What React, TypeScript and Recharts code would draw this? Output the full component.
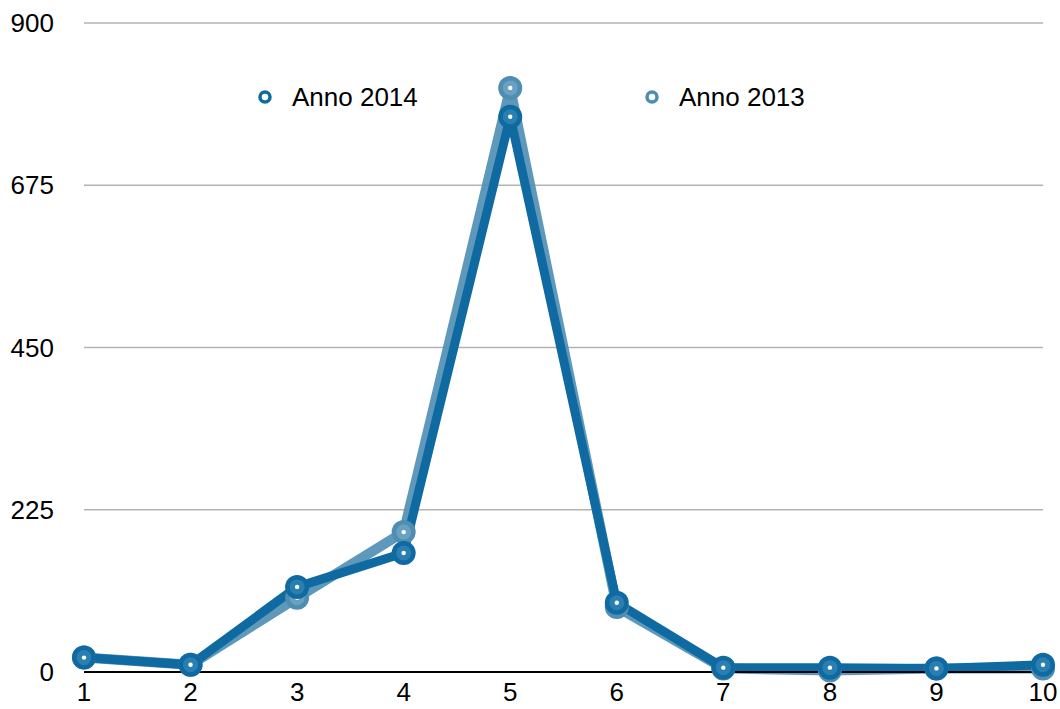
import { LineChart, Line, XAxis, YAxis, CartesianGrid } from 'recharts'

const categories = ['1', '2', '3', '4', '5', '6', '7', '8', '9', '10']
const anno2014 = [20, 10, 118, 165, 770, 96, 6, 6, 5, 10]
const anno2013 = [20, 10, 103, 194, 810, 90, 5, 2, 5, 5]
const yTicks = [0, 225, 450, 675, 900]

const C2014 = '#0f6aa1'
const C2013 = '#4d8db3'
const FONT = '"Liberation Sans", Arial, sans-serif'

const data = categories.map((c, i) => ({ cat: c, a2014: anno2014[i], a2013: anno2013[i] }))

const makeDot = (outer: string, inner: string) => (props: any) => {
  const { cx, cy, index } = props
  if (cx == null || cy == null) return <g key={index} />
  return (
    <g key={index}>
      <circle cx={cx} cy={cy} r={12} fill={outer} />
      <circle cx={cx} cy={cy} r={7.5} fill={inner} />
      <circle cx={cx} cy={cy} r={2.2} fill="#fff" />
    </g>
  )
}

const LegendIcon = ({ color }: { color: string }) => (
  <svg width={16} height={16} style={{ display: 'block' }}>
    <circle cx={8} cy={8} r={5} fill="#fff" stroke={color} strokeWidth={3.5} />
  </svg>
)

// legend is overlaid so it doesn't push the plot area down
function ChartLegend() {
  const items = [
    { name: 'Anno 2014', color: C2014, left: 257 },
    { name: 'Anno 2013', color: C2013, left: 644 },
  ]
  return (
    <>
      {items.map((it) => (
        <div key={it.name} style={{ position: 'absolute', left: it.left, top: 82, height: 30, display: 'flex', alignItems: 'center', whiteSpace: 'nowrap' }}>
          <LegendIcon color={it.color} />
          <span style={{ marginLeft: 19, fontSize: 26, color: '#000', fontFamily: FONT }}>{it.name}</span>
        </div>
      ))}
    </>
  )
}

export default function App() {
  const tick = { fill: '#000', fontSize: 26, fontFamily: FONT }
  return (
    <div style={{ position: 'absolute', left: 0, top: 0, width: 1060, height: 709, background: '#fff' }}>
      <LineChart width={1060} height={709} data={data} margin={{ top: 23, right: 17, left: 0, bottom: 0 }}>
        <CartesianGrid vertical={false} stroke="#b3b3b3" strokeWidth={1.5} />
        <XAxis
          dataKey="cat"
          tick={tick}
          tickLine={false}
          tickSize={0}
          tickMargin={11}
          height={37}
          stroke="#000"
          strokeWidth={2}
        />
        <YAxis
          domain={[0, 900]}
          ticks={yTicks}
          tick={tick}
          axisLine={false}
          tickLine={false}
          tickSize={0}
          tickMargin={30}
          width={84}
          interval={0}
        />
        <Line
          dataKey="a2013"
          name="Anno 2013"
          stroke={C2013}
          strokeOpacity={0.9}
          strokeWidth={10}
          dot={makeDot('#4f8db1', '#6aa0c1')}
          activeDot={false}
          isAnimationActive={false}
        />
        <Line
          dataKey="a2014"
          name="Anno 2014"
          stroke={C2014}
          strokeWidth={9}
          dot={makeDot('#0f6aa1', '#2b7fb0')}
          activeDot={false}
          isAnimationActive={false}
        />
      </LineChart>
      <ChartLegend />
    </div>
  )
}
